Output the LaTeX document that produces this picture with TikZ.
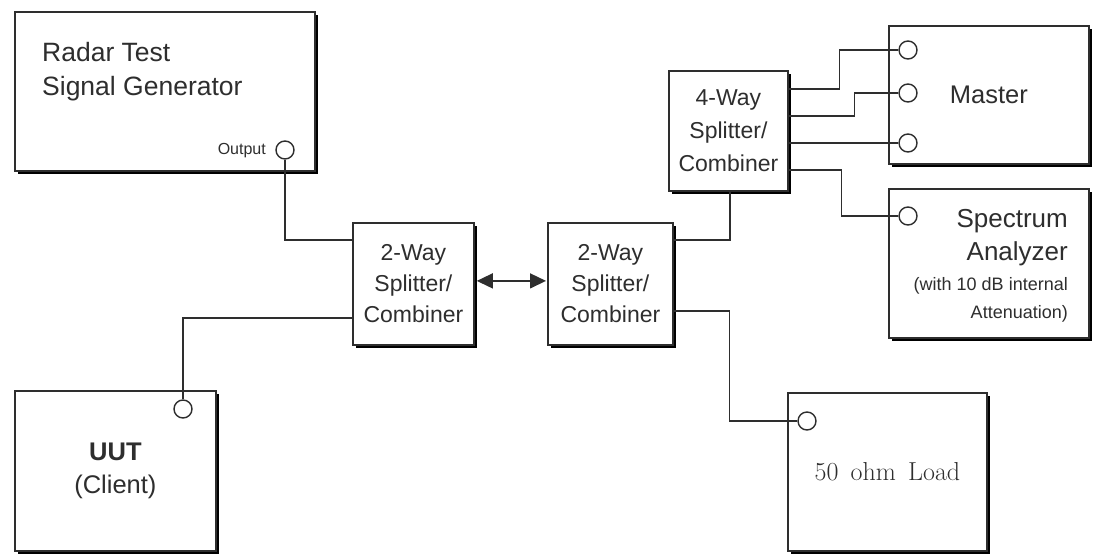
\documentclass[tikz,border=0pt]{standalone}
\usepackage{fontspec}
\setsansfont{Liberation Sans}
\usetikzlibrary{shadows,arrows.meta,calc}
\definecolor{ink}{HTML}{2E2E2E}
\definecolor{edge}{HTML}{2E2E2E}
\tikzset{
  devbox/.style={draw=edge, line width=1.8pt, fill=white, anchor=north west,
    inner sep=0pt, text=ink, align=center,
    general shadow={fill=black, shadow xshift=3.5pt, shadow yshift=-3.5pt}},
  port/.style={circle, draw=edge, line width=1.4pt, fill=white, minimum size=18pt, inner sep=0pt},
  wire/.style={draw=edge, line width=1.5pt},
  lbl/.style={text=ink, inner sep=0pt, font=\sffamily},
}
\begin{document}
\begin{tikzpicture}[x=1pt,y=-1pt]
\useasboundingbox (0,0) rectangle (1094,554);
% boxes
\node[devbox, minimum width=300pt, minimum height=159pt] (radar) at (14,11) {};
\node[devbox, minimum width=201pt, minimum height=160pt,
      font=\sffamily\fontsize{25.5}{33}\selectfont] (uut) at (14,390) {\textbf{UUT}\\(Client)};
\node[devbox, minimum width=121pt, minimum height=122pt,
      font=\sffamily\fontsize{23}{31}\selectfont] (s1) at (352,222) {2-Way\\Splitter/\\Combiner};
\node[devbox, minimum width=125pt, minimum height=122pt,
      font=\sffamily\fontsize{23}{31}\selectfont] (s2) at (547,222) {2-Way\\Splitter/\\Combiner};
\node[devbox, minimum width=119pt, minimum height=120pt,
      font=\sffamily\fontsize{23}{33}\selectfont] (w4) at (668,70) {4-Way\\Splitter/\\Combiner};
\node[devbox, minimum width=200pt, minimum height=138pt,
      font=\sffamily\fontsize{25.5}{30}\selectfont] (master) at (888,25) {Master};
\node[devbox, minimum width=200pt, minimum height=149pt] (spec) at (888,188) {};
\node[devbox, minimum width=199pt, minimum height=158pt,
      font=\rmfamily\fontsize{26}{30}\selectfont] (load) at (787,392) {50\,\ ohm\,\ Load};
% texts
\node[lbl, anchor=base west, font=\sffamily\fontsize{26.5}{34}\selectfont] (radart1) at (42,61) {Radar Test};
\node[lbl, anchor=base west, font=\sffamily\fontsize{26.5}{34}\selectfont] (radart2) at (42,95) {Signal Generator};
\node[lbl, anchor=base east, font=\sffamily\fontsize{16}{20}\selectfont] (outl) at (266,154) {Output};
\node[lbl, anchor=base east, font=\sffamily\fontsize{26}{30}\selectfont] (spt1) at (1068,227) {Spectrum};
\node[lbl, anchor=base east, font=\sffamily\fontsize{26}{30}\selectfont] (spt2) at (1068,260) {Analyzer};
\node[lbl, anchor=base east, font=\sffamily\fontsize{18}{22}\selectfont] (spt3) at (1068,290) {(with 10 dB internal};
\node[lbl, anchor=base east, font=\sffamily\fontsize{18}{22}\selectfont] (spt4) at (1068,318) {Attenuation)};
% ports
\node[port] (pout) at (285,150) {};
\node[port] (puut) at (183,409) {};
\node[port] (pm1) at (908,50) {};
\node[port] (pm2) at (908,93) {};
\node[port] (pm3) at (908,143) {};
\node[port] (pspec) at (908,216) {};
\node[port] (pload) at (807,421) {};
% connectors
\draw[wire] (pout.south) |- ($(s1.north west)+(0,18)$);
\draw[wire] ($(s1.north west)+(0,96)$) -| (puut.north);
\draw[wire, {Triangle[length=16pt,width=15pt]}-{Triangle[length=16pt,width=15pt]}]
   ($(s1.east)+(2,-3)$) -- ($(s2.west)+(-1,-3)$);
\draw[wire] ($(s2.north east)+(0,18)$) -| ($(w4.south west)+(62,0)$);
\draw[wire] ($(s2.north east)+(0,89)$) -| ($(pload.west)+(-68,0)$) -- (pload.west);
\draw[wire] ($(w4.north east)+(0,19)$) -| ($(pm1.west)+(-59,0)$) -- (pm1.west);
\draw[wire] ($(w4.north east)+(0,46)$) -| ($(pm2.west)+(-44,0)$) -- (pm2.west);
\draw[wire] ($(w4.north east)+(0,73)$) -- (pm3.west);
\draw[wire] ($(w4.north east)+(0,100)$) -| ($(pspec.west)+(-57,0)$) -- (pspec.west);
\end{tikzpicture}
\end{document}
